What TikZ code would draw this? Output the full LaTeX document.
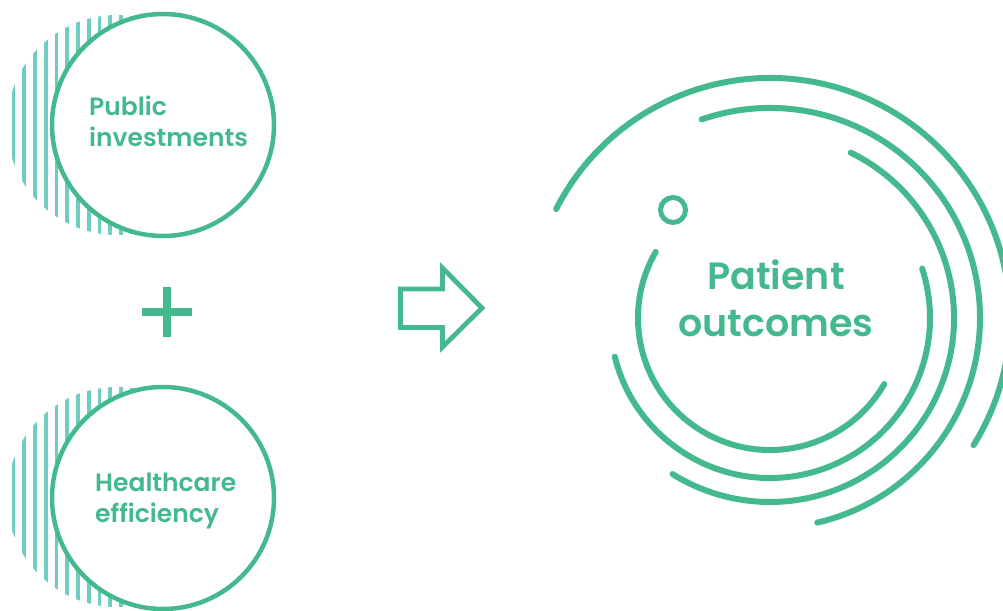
\documentclass[tikz,border=0pt]{standalone}
\usepackage{fontspec}
\newfontfamily\lblfont{Poppins SemiBold}
\definecolor{mygreen}{HTML}{45B98E}
\definecolor{myteal}{HTML}{70CBC3}
\begin{document}
\begin{tikzpicture}[x=1pt,y=1pt,
  ring/.style={draw=mygreen,line width=6pt,line cap=round},
  bigcirc/.style={draw=mygreen,fill=white,line width=4.5pt},
  smalllbl/.style={text=mygreen,font=\lblfont\fontsize{25}{31.8}\selectfont,align=left,anchor=base west,inner sep=0pt},
  biglbl/.style={text=mygreen,font=\lblfont\fontsize{38}{47}\selectfont,align=center,anchor=base,inner sep=0pt},
  stripe/.style={fill=myteal}]
\useasboundingbox (0,0) rectangle (1003,610);
% hatched discs
\foreach \cy in {485,113}{
  \begin{scope}
    \clip (117,\cy) circle (110);
    \foreach \k in {0,...,20}{
      \pgfmathsetmacro{\xx}{13.5+10.75*\k}
      \fill[stripe] (\xx-1.9,\cy-115) rectangle (\xx+1.9,\cy+115);
    }
  \end{scope}
}
% main circles
\node[bigcirc,circle,minimum size=222pt,inner sep=0pt] (pubc) at (163,485) {};
\node[bigcirc,circle,minimum size=222pt,inner sep=0pt] (hcc) at (163,112) {};
\node[smalllbl] (pub) at (89,463) {Public\\investments};
\node[smalllbl] (hc) at (95,87) {Healthcare\\efficiency};
% plus
\coordinate (plus) at (167,298);
\fill[mygreen] ([xshift=-25pt,yshift=-4.25pt]plus) rectangle ([xshift=25pt,yshift=4.25pt]plus);
\fill[mygreen] ([xshift=-4.2pt,yshift=-25pt]plus) rectangle ([xshift=4.2pt,yshift=25pt]plus);
% arrow
\draw[mygreen,line width=4.8pt,line join=miter] (400.5,321) -- (442.5,321) -- (442.5,342) -- (482,302) -- (442.5,263) -- (442.5,282.5) -- (400.5,282.5) -- cycle;
% rings
\coordinate (c) at (770,292);
\draw[ring] ([shift={(150:132)}]c) arc[start angle=150,end angle=330,radius=132];
\draw[ring] ([shift={(194:160)}]c) arc[start angle=194,end angle=378,radius=160];
\draw[ring] ([shift={(64:184)}]c) arc[start angle=64,end angle=-122,radius=184];
\draw[ring] ([shift={(109:210)}]c) arc[start angle=109,end angle=-77,radius=210];
\draw[ring] ([shift={(153:240)}]c) arc[start angle=153,end angle=-32,radius=240];
\draw[mygreen,line width=5pt] (673,400) circle (12.5);
\node[biglbl] (po) at (776,273) {Patient\\outcomes};
\end{tikzpicture}
\end{document}
